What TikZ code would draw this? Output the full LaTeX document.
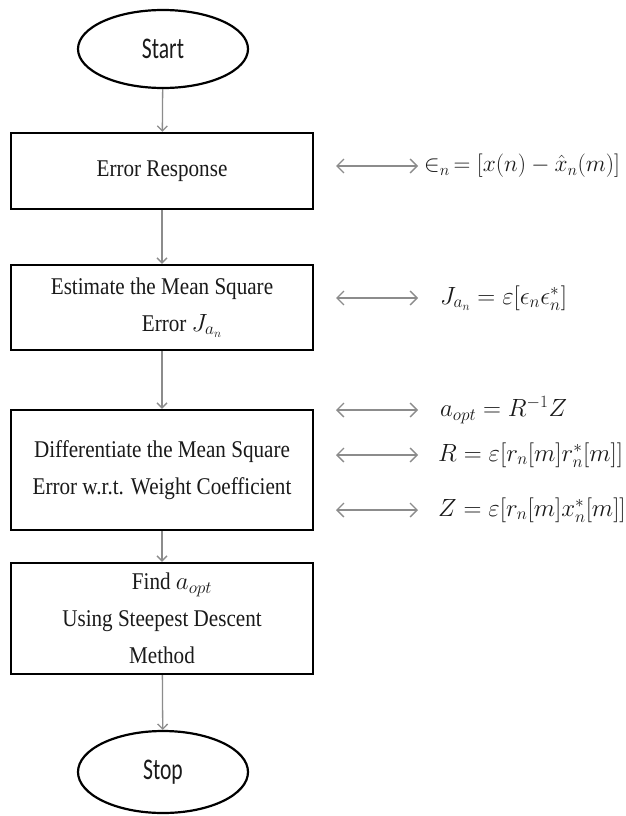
\documentclass[tikz,border=0pt]{standalone}
\usepackage{graphicx}
\usepackage{fontspec}
\setmainfont{Liberation Serif}[FakeStretch=0.88]
\newfontfamily\ssf{Carlito}[FakeStretch=0.72]
\usetikzlibrary{shapes.geometric,arrows.meta}
\definecolor{arrowgray}{HTML}{8C8C8C}
\definecolor{txt}{HTML}{1A1A1A}
\begin{document}
\begin{tikzpicture}[x=1pt,y=-1pt,
  term/.style={ellipse,draw=black,line width=2.2pt,minimum width=170pt,minimum height=78pt,inner sep=0pt,text=txt,font={\ssf\fontsize{30}{34}\selectfont}},
  procbox/.style={rectangle,draw=black,line width=2.4pt,minimum width=302pt,inner sep=0pt,align=center,text=txt,font={\fontsize{24}{37}\selectfont}},
  flow/.style={draw=arrowgray,line width=1.3pt,-{Straight Barb[length=5pt,width=10pt]}},
  dbl/.style={draw=arrowgray,line width=1.3pt,{Straight Barb[length=7pt,width=14pt]}-{Straight Barb[length=7pt,width=14pt]}},
  formula/.style={anchor=west,inner sep=0pt,text=txt,font={\fontsize{26}{30}\selectfont}}
]
\useasboundingbox (0,0) rectangle (626,816);
\fill[white] (0,0) rectangle (626,816);

\node[term] (start) at (163,49) {Start};
\node[procbox,minimum height=76pt] (b1) at (162,171) {Error Response};
\node[procbox,minimum height=85pt] (b2) at (162,307.5) {Estimate the Mean Square\\ \hspace*{40pt}Error $J_{a_n}$};
\node[procbox,minimum height=120pt] (b3) at (162,470) {Differentiate the Mean Square\\Error w.r.t. Weight Coefficient};
\node[procbox,minimum height=111pt] (b4) at (162,618.5) {\hspace*{20pt}Find $a_{opt}$\\Using Steepest Descent\\Method};
\node[term,minimum height=82pt] (stop) at (163,772) {Stop};

\draw[flow] (start) -- (b1);
\draw[flow] (b1) -- (b2);
\draw[flow] (b2) -- (b3);
\draw[flow] (b3) -- (b4);
\draw[flow] (b4) -- (stop);

\node[formula] (f1) at (424,166) {\scalebox{0.94}{$\in_n\,= [x(n) - \hat{x}_n(m)]$}};
\node[formula] (f2) at (440,298) {$J_{a_n} = \varepsilon[\epsilon_n\epsilon_n^*]$};
\node[formula] (f3) at (440,410) {$a_{opt} = R^{-1}Z$};
\node[formula] (f4) at (438,455) {$R = \varepsilon[r_n[m]r_n^*[m]]$};
\node[formula] (f5) at (438,510) {$Z = \varepsilon[r_n[m]x_n^*[m]]$};

\coordinate (l1) at (336,166); \coordinate (r1) at (418,166);
\coordinate (l2) at (336,298); \coordinate (r2) at (418,298);
\coordinate (l3) at (336,410); \coordinate (r3) at (418,410);
\coordinate (l4) at (336,455); \coordinate (r4) at (418,455);
\coordinate (l5) at (336,510); \coordinate (r5) at (418,510);
\draw[dbl] (l1) -- (r1);
\draw[dbl] (l2) -- (r2);
\draw[dbl] (l3) -- (r3);
\draw[dbl] (l4) -- (r4);
\draw[dbl] (l5) -- (r5);
\end{tikzpicture}
\end{document}
